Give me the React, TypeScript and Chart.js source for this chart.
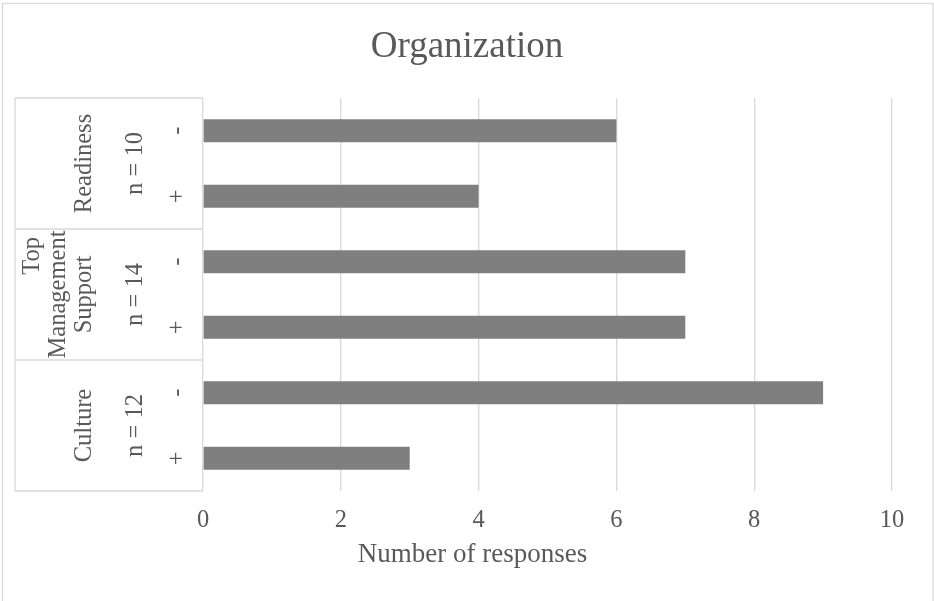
import { useEffect, useRef } from "react";
import { Chart, registerables } from "chart.js";

Chart.register(...registerables);

// ---- data ----
const CHART_TITLE = "Organization";
const AXIS_TITLE = "Number of responses";
const GROUP_NAMES: string[][] = [["Readiness"], ["Top", "Management", "Support"], ["Culture"]];
const GROUP_SIZES = ["n = 10", "n = 14", "n = 12"];
const SIGNS = ["-", "+"];
const READINESS = [6, 4];
const TOP_MANAGEMENT = [7, 7];
const CULTURE = [9, 3];
const X_MIN = 0;
const X_MAX = 10;
const X_STEP = 2;

// ---- styling ----
const FONT = '"Liberation Serif", "Times New Roman", serif';
const TEXT_COLOR = "#595959";
const LINE_COLOR = "#d9d9d9";
const BAR_COLOR = "#7f7f7f";
const W = 934;
const H = 601;

const GROUP_VALUES = [READINESS, TOP_MANAGEMENT, CULTURE];
const LABELS = GROUP_NAMES.flatMap((g) => SIGNS.map((s) => `${g.join(" ")} ${s}`));
const VALUES = GROUP_VALUES.flat();

const frameAndCategories = {
  id: "frameAndCategories",
  beforeDraw(chart: any) {
    const ctx = chart.ctx;
    ctx.save();
    ctx.fillStyle = "#ffffff";
    ctx.fillRect(0, 0, chart.width, chart.height);
    ctx.strokeStyle = LINE_COLOR;
    ctx.lineWidth = 1.3;
    ctx.strokeRect(2.5, 3.5, chart.width - 3.5, chart.height + 10);
    ctx.restore();
  },
  afterDraw(chart: any) {
    const ctx = chart.ctx;
    const area = chart.chartArea;
    const yScale = chart.scales.y;
    const boxLeft = 15;
    const per = SIGNS.length;

    ctx.save();
    ctx.strokeStyle = LINE_COLOR;
    ctx.lineWidth = 1.3;

    // outer box of the multi-level category axis
    const hLine = (y: number) => {
      ctx.beginPath();
      ctx.moveTo(boxLeft, y);
      ctx.lineTo(area.left, y);
      ctx.stroke();
    };
    hLine(area.top);
    hLine(area.bottom);
    ctx.beginPath();
    ctx.moveTo(boxLeft, area.top);
    ctx.lineTo(boxLeft, area.bottom);
    ctx.stroke();

    // separators between groups
    for (let g = 1; g < GROUP_NAMES.length; g++) {
      const y = (yScale.getPixelForValue(g * per - 1) + yScale.getPixelForValue(g * per)) / 2;
      hLine(y);
    }

    ctx.fillStyle = TEXT_COLOR;
    ctx.font = `24.5px ${FONT}`;
    ctx.textBaseline = "alphabetic";

    const rotated = (text: string, baseX: number, y: number, align: CanvasTextAlign) => {
      ctx.save();
      ctx.translate(baseX, y);
      ctx.rotate(-Math.PI / 2);
      ctx.textAlign = align;
      ctx.fillText(text, 0, 0);
      ctx.restore();
    };

    GROUP_NAMES.forEach((lines, g) => {
      const first = yScale.getPixelForValue(g * per);
      const last = yScale.getPixelForValue(g * per + per - 1);
      const centerY = (first + last) / 2;
      const groupTop = first - (last - first) / 2;
      const lineGap = 26;
      lines.forEach((line, k) => {
        const baseX = 91 - (lines.length - 1 - k) * lineGap;
        if (lines.length > 1 && k === 0) {
          rotated(line, baseX, groupTop + 8, "right");
        } else {
          rotated(line, baseX, centerY, "center");
        }
      });
      rotated(GROUP_SIZES[g], 141.5, centerY, "center");
      SIGNS.forEach((s, i) => {
        rotated(s, 183.5, yScale.getPixelForValue(g * per + i), "center");
      });
    });

    // chart title and value-axis title
    ctx.textAlign = "center";
    ctx.font = `37px ${FONT}`;
    ctx.fillText(CHART_TITLE, 467, 56.5);
    ctx.font = `27px ${FONT}`;
    ctx.fillText(AXIS_TITLE, 472.5, 561.5);
    ctx.restore();
  },
};

export default function App() {
  const canvasRef = useRef<HTMLCanvasElement | null>(null);

  useEffect(() => {
    const canvas = canvasRef.current;
    if (!canvas) return;
    const chart = new Chart(canvas, {
      type: "bar",
      data: {
        labels: LABELS,
        datasets: [
          {
            data: VALUES,
            backgroundColor: BAR_COLOR,
            borderWidth: 0,
            categoryPercentage: 1,
            barPercentage: 0.35,
          },
        ],
      },
      options: {
        indexAxis: "y",
        responsive: false,
        animation: false,
        devicePixelRatio: 1,
        layout: { padding: { top: 98, right: 42, bottom: 0, left: 0 } },
        plugins: {
          legend: { display: false },
          title: { display: false },
          tooltip: { enabled: false },
        },
        scales: {
          x: {
            type: "linear",
            min: X_MIN,
            max: X_MAX,
            ticks: {
              stepSize: X_STEP,
              color: TEXT_COLOR,
              font: { family: FONT, size: 24.5 },
              padding: 14.5,
            },
            grid: { color: LINE_COLOR, lineWidth: 1.3, drawTicks: false },
            border: { display: false },
            afterFit(scale: any) {
              scale.height = 110;
            },
          },
          y: {
            type: "category",
            ticks: { display: false },
            grid: { display: false, drawTicks: false },
            border: { display: false },
            afterFit(scale: any) {
              scale.width = 203;
            },
          },
        },
      },
      plugins: [frameAndCategories],
    });
    return () => chart.destroy();
  }, []);

  return (
    <div style={{ position: "absolute", left: 0, top: 0, width: W, height: H, background: "#fff" }}>
      <canvas ref={canvasRef} width={W} height={H} style={{ display: "block" }} />
    </div>
  );
}
